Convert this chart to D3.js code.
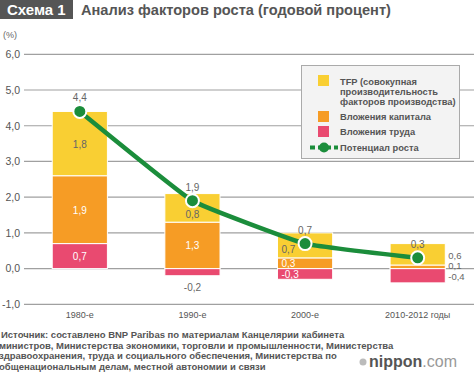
<!DOCTYPE html>
<html><head><meta charset="utf-8">
<script src="https://cdn.jsdelivr.net/npm/d3@7"></script>
<style>body{margin:0;background:#fff}svg{display:block;font-family:"Liberation Sans",Arial,sans-serif}</style>
</head><body><svg id="c" width="474" height="380"></svg>
<script>
const categories = ["1980-е","1990-е","2000-е","2010-2012 годы"];
const labor   = [0.7, -0.2, -0.3, -0.4];
const capital = [1.9, 1.3, 0.3, 0.1];
const tfp     = [1.8, 0.8, 0.7, 0.6];
const potential = [4.4, 1.9, 0.7, 0.3];
const yTicks = [-1,0,1,2,3,4,5,6];
const legendItems = ["TFP (совокупная|производительность|факторов производства)","Вложения капитала","Вложения труда","Потенциал роста"];
const colors = {tfp:"#f9cf33", capital:"#f69c25", labor:"#e94a70", line:"#1b8d3b"};
const fmt = v => String(v.toFixed(1)).replace(".", ",");

const svg = d3.select("#c");
const y = d3.scaleLinear().domain([-1,6]).range([304.3,54.3]);
const x = d3.scaleBand().domain(categories).range([23.5,474]).paddingInner(0.51).paddingOuter(0.255);

// title
svg.append("rect").attr("x",0).attr("y",0).attr("width",73).attr("height",19).attr("fill","#555");
svg.append("text").attr("x",7).attr("y",15).attr("fill","#fff").attr("font-weight","bold").attr("font-size",15).text("Схема 1");
svg.append("text").attr("x",81).attr("y",15).attr("fill","#555").attr("font-weight","bold").attr("font-size",14.6).text("Анализ факторов роста (годовой процент)");
svg.append("text").attr("x",3).attr("y",38).attr("fill","#666").attr("font-size",9).text("(%)");

// grid + axis
const yAxis = d3.axisLeft(y).tickValues(yTicks).tickSize(0).tickPadding(4).tickFormat(fmt);
const ga = svg.append("g").attr("transform","translate(24,0)").call(yAxis);
ga.select(".domain").remove();
ga.selectAll("text").attr("fill","#555").attr("font-size",10.5).attr("font-family","Liberation Sans,Arial,sans-serif");
svg.append("g").selectAll("line").data(yTicks).join("line")
  .attr("x1",24).attr("x2",474).attr("y1",d=>y(d)).attr("y2",d=>y(d))
  .attr("stroke","#a0a0a0").attr("stroke-width",1.2);

// bars
const bw = x.bandwidth();
const rows = categories.map((c,i)=>({c,i,labor:labor[i],capital:capital[i],tfp:tfp[i]}));
rows.forEach(r=>{
  const segs = [];
  const lb = r.labor;
  if (lb>=0){
    segs.push({k:"labor",y0:0,y1:lb});
    segs.push({k:"capital",y0:lb,y1:lb+r.capital});
    segs.push({k:"tfp",y0:lb+r.capital,y1:lb+r.capital+r.tfp});
  } else {
    segs.push({k:"labor",y0:lb,y1:0});
    segs.push({k:"capital",y0:0,y1:r.capital});
    segs.push({k:"tfp",y0:r.capital,y1:r.capital+r.tfp});
  }
  const g = svg.append("g");
  g.selectAll("rect").data(segs).join("rect")
    .attr("x",x(r.c)).attr("width",bw)
    .attr("y",d=>y(d.y1)).attr("height",d=>y(d.y0)-y(d.y1))
    .attr("fill",d=>colors[d.k]).attr("stroke","#fff").attr("stroke-width",1);
});

// segment labels
const lab = (xx,yy,t,fill,anchor,fs) => svg.append("text").attr("x",xx).attr("y",yy)
  .attr("text-anchor",anchor||"middle").attr("fill",fill).attr("font-size",fs||10).text(t);
const dark = "#666";
// 1980
{ const c=categories[0], cx=x(c)+bw/2;
  lab(cx, y(0.35)+4, fmt(labor[0]), "#fff");
  lab(cx, y(0.7+0.95)+4, fmt(capital[0]), "#fff");
  lab(cx, y(2.6+0.9)+4, fmt(tfp[0]), dark);
}
// 1990
{ const c=categories[1], cx=x(c)+bw/2;
  lab(cx, y(-0.2)+15, fmt(labor[1]), dark);
  lab(cx, y(0.65)+4, fmt(capital[1]), "#fff");
  lab(cx, y(1.3)-4, fmt(tfp[1]), dark);
}
// 2000
{ const c=categories[2], lx=x(c)+4;
  lab(lx, y(-0.15)+4, fmt(labor[2]), "#fff","start");
  lab(lx, y(0.15)+4, fmt(capital[2]), "#fff","start");
  lab(lx, y(0.3)-5, fmt(tfp[2]), dark,"start");
}
// 2010
{ const c=categories[3], lx=x(c)+bw+3;
  lab(lx, y(0)-9.5, fmt(tfp[3]), dark,"start",9.5);
  lab(lx, y(0)+0.5, fmt(capital[3]), dark,"start",9.5);
  lab(lx, y(0)+11, fmt(labor[3]), dark,"start",9.5);
}

// potential line
const pts = categories.map((c,i)=>[x(c)+bw/2, y(potential[i])]);
svg.append("path").attr("d", d3.line().curve(d3.curveCardinal.tension(0.7))(pts))
  .attr("fill","none").attr("stroke",colors.line).attr("stroke-width",4.5);
svg.append("g").selectAll("circle").data(pts).join("circle")
  .attr("cx",d=>d[0]).attr("cy",d=>d[1]).attr("r",6.5)
  .attr("fill",colors.line).attr("stroke","#fff").attr("stroke-width",2);
svg.append("g").selectAll("text").data(pts).join("text")
  .attr("x",d=>d[0]).attr("y",d=>d[1]-10).attr("text-anchor","middle")
  .attr("fill",dark).attr("font-size",10).text((d,i)=>fmt(potential[i]));

// legend
const lg = svg.append("g");
lg.append("rect").attr("x",301.5).attr("y",65.5).attr("width",158).attr("height",93)
  .attr("fill","#f3f3f3").attr("stroke","#aaa").attr("stroke-width",1);
const lcol = [colors.tfp, colors.capital, colors.labor];
const lys = [75, 111, 126];
lcol.forEach((col,i)=>lg.append("rect").attr("x",318).attr("y",lys[i]).attr("width",11).attr("height",11).attr("fill",col));
const ltext = (yy,t) => lg.append("text").attr("x",340).attr("y",yy).attr("fill","#555").attr("font-size",9.3).attr("font-weight","bold").text(t);
legendItems[0].split("|").forEach((t,k)=>ltext(84.5+k*10,t));
ltext(119.5, legendItems[1]);
ltext(134.5, legendItems[2]);
ltext(150.5, legendItems[3]);
lg.append("line").attr("x1",310).attr("x2",338).attr("y1",147.5).attr("y2",147.5)
  .attr("stroke",colors.line).attr("stroke-width",4).attr("stroke-dasharray","5,3");
lg.append("circle").attr("cx",324).attr("cy",147.5).attr("r",5).attr("fill",colors.line);

// x labels
svg.append("g").selectAll("text").data(categories).join("text")
  .attr("x",d=>x(d)+bw/2).attr("y",318).attr("text-anchor","middle")
  .attr("fill","#555").attr("font-size",9).text(d=>d);

// source
const src = ["Источник: составлено BNP Paribas по материалам Канцелярии кабинета",
 "министров, Министерства экономики, торговли и промышленности, Министерства",
 "здравоохранения, труда и социального обеспечения, Министерства по",
 "общенациональным делам, местной автономии и связи"];
svg.append("g").selectAll("text").data(src).join("text")
  .attr("x",(d,i)=>i===0?1:-1).attr("y",(d,i)=>338+i*10.5)
  .attr("fill","#555").attr("font-size",9.5).attr("font-weight","bold").text(d=>d);

// logo
svg.append("circle").attr("cx",363).attr("cy",362).attr("r",3.5).attr("fill","#bbb");
const lt = svg.append("text").attr("x",369).attr("y",367).attr("font-size",16);
lt.append("tspan").attr("fill","#555").attr("font-weight","bold").text("nippon");
lt.append("tspan").attr("fill","#999").text(".com");
</script></body></html>
